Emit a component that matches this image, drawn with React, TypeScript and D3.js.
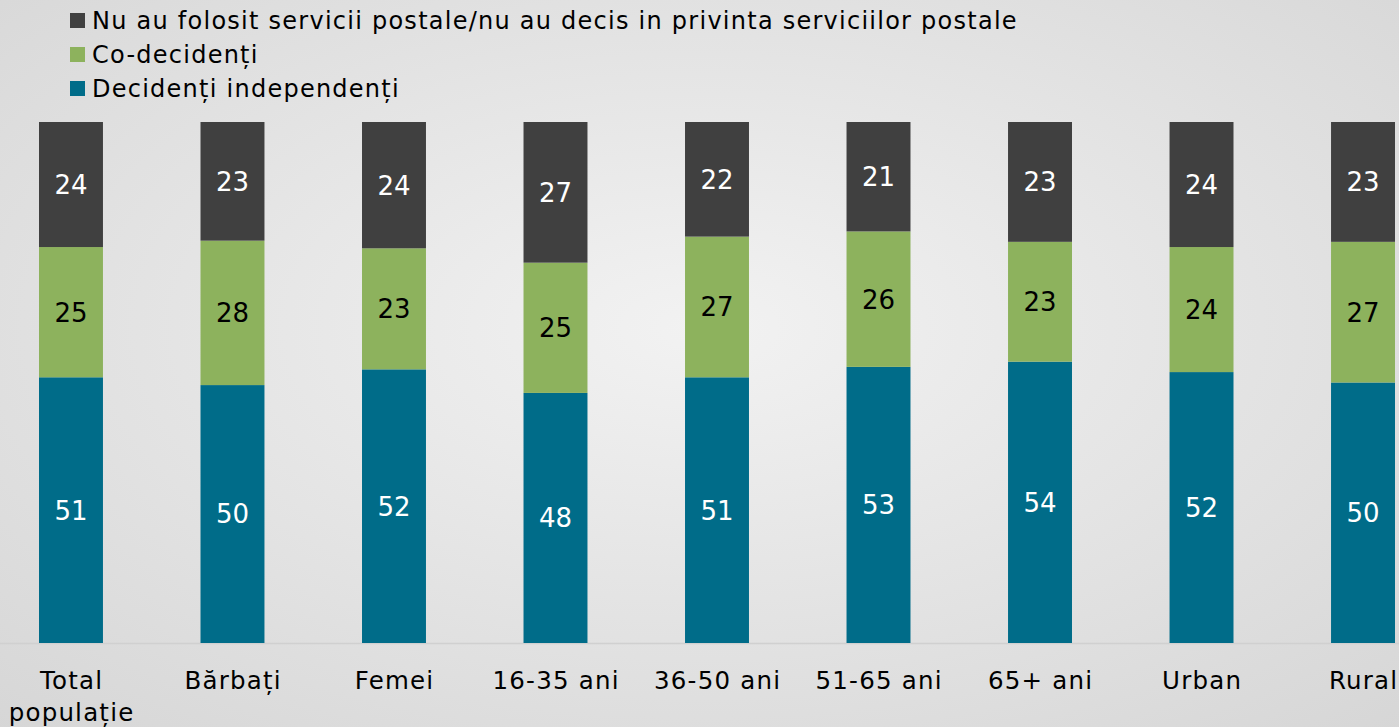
import { useEffect, useRef } from 'react';
import * as d3 from 'd3';

const categories = ['Total\npopulație', 'Bărbați', 'Femei', '16-35 ani', '36-50 ani', '51-65 ani', '65+ ani', 'Urban', 'Rural'];
const independenti = [51, 50, 52, 48, 51, 53, 54, 52, 50];
const coDecidenti = [25, 28, 23, 25, 27, 26, 23, 24, 27];
const nuAuFolosit = [24, 23, 24, 27, 22, 21, 23, 24, 23];

const seriesNames = ['Decidenți independenți', 'Co-decidenți', 'Nu au folosit servicii postale/nu au decis in privinta serviciilor postale'];
const seriesColors = ['#006c89', '#8db25d', '#404040'];
const labelColors = ['#ffffff', '#000000', '#ffffff'];

const [width, height] = [1399, 727];
const font = '"DejaVu Sans", Verdana, sans-serif';

function App() {
    const node = useRef<SVGSVGElement>(null);
    useEffect(() => {
        if (!node.current) return;
        const svg = d3.select(node.current);
        svg.selectAll('*').remove();

        const defs = svg.append('defs');
        const grad = defs.append('radialGradient').attr('id', 'bg').attr('cx', '50%').attr('cy', '45%').attr('r', '75%');
        grad.append('stop').attr('offset', '0%').attr('stop-color', '#f2f2f2');
        grad.append('stop').attr('offset', '100%').attr('stop-color', '#d6d6d6');
        svg.append('rect').attr('width', width).attr('height', height).attr('fill', 'url(#bg)');

        const rows = categories.map((c, i) => ({ cat: c, s0: independenti[i], s1: coDecidenti[i], s2: nuAuFolosit[i] }));
        const stack = d3.stack<any>().keys(['s0', 's1', 's2']).offset(d3.stackOffsetExpand);
        const stacked = stack(rows);

        const x = d3.scaleBand().domain(categories).range([39, 1395]).paddingInner(0.604).paddingOuter(0);
        const y = d3.scaleLinear().domain([0, 1]).range([643, 122]);

        // axis line
        svg.append('line').attr('x1', 0).attr('x2', width).attr('y1', 643.5).attr('y2', 643.5)
            .attr('stroke', '#d0d0d0').attr('stroke-width', 1.5);

        stacked.forEach((layer, li) => {
            const g = svg.append('g');
            g.selectAll('rect').data(layer).enter().append('rect')
                .attr('x', d => x(d.data.cat)!)
                .attr('width', x.bandwidth())
                .attr('y', d => y(d[1]))
                .attr('height', d => y(d[0]) - y(d[1]))
                .attr('fill', seriesColors[li]);
            g.selectAll('text').data(layer).enter().append('text')
                .attr('x', d => x(d.data.cat)! + x.bandwidth() / 2)
                .attr('y', d => (y(d[0]) + y(d[1])) / 2)
                .attr('dy', '0.36em')
                .attr('text-anchor', 'middle')
                .attr('font-family', font).attr('font-size', 26)
                .attr('fill', labelColors[li])
                .text(d => d.data[`s${li}`]);
        });

        // category labels
        const xl = svg.append('g');
        categories.forEach(c => {
            const cx = x(c)! + x.bandwidth() / 2 + 0.6;
            const t = xl.append('text')
                .attr('x', cx)
                .attr('y', 689)
                .attr('text-anchor', 'middle')
                .attr('font-family', font).attr('font-size', 24.5).attr('letter-spacing', 1.2).attr('fill', '#000');
            c.split('\n').forEach((line, i) => {
                t.append('tspan').attr('x', cx).attr('dy', i === 0 ? 0 : 32).text(line);
            });
        });

        // legend (reverse order, top is dark)
        const legendOrder = [2, 1, 0];
        legendOrder.forEach((si, i) => {
            const ly = 20.5 + i * 34;
            svg.append('rect').attr('x', 70).attr('y', ly - 7.5).attr('width', 15).attr('height', 15).attr('fill', seriesColors[si]);
            svg.append('text').attr('x', 92).attr('y', ly + 8)
                .attr('font-family', font).attr('font-size', 24).attr('letter-spacing', 1.25).attr('fill', '#000')
                .text(seriesNames[si]);
        });
    }, [node]);

    return (
        <svg ref={node} width={width} height={height} style={{ position: 'absolute', left: 0, top: 0 }}></svg>
    );
}

export default App;
